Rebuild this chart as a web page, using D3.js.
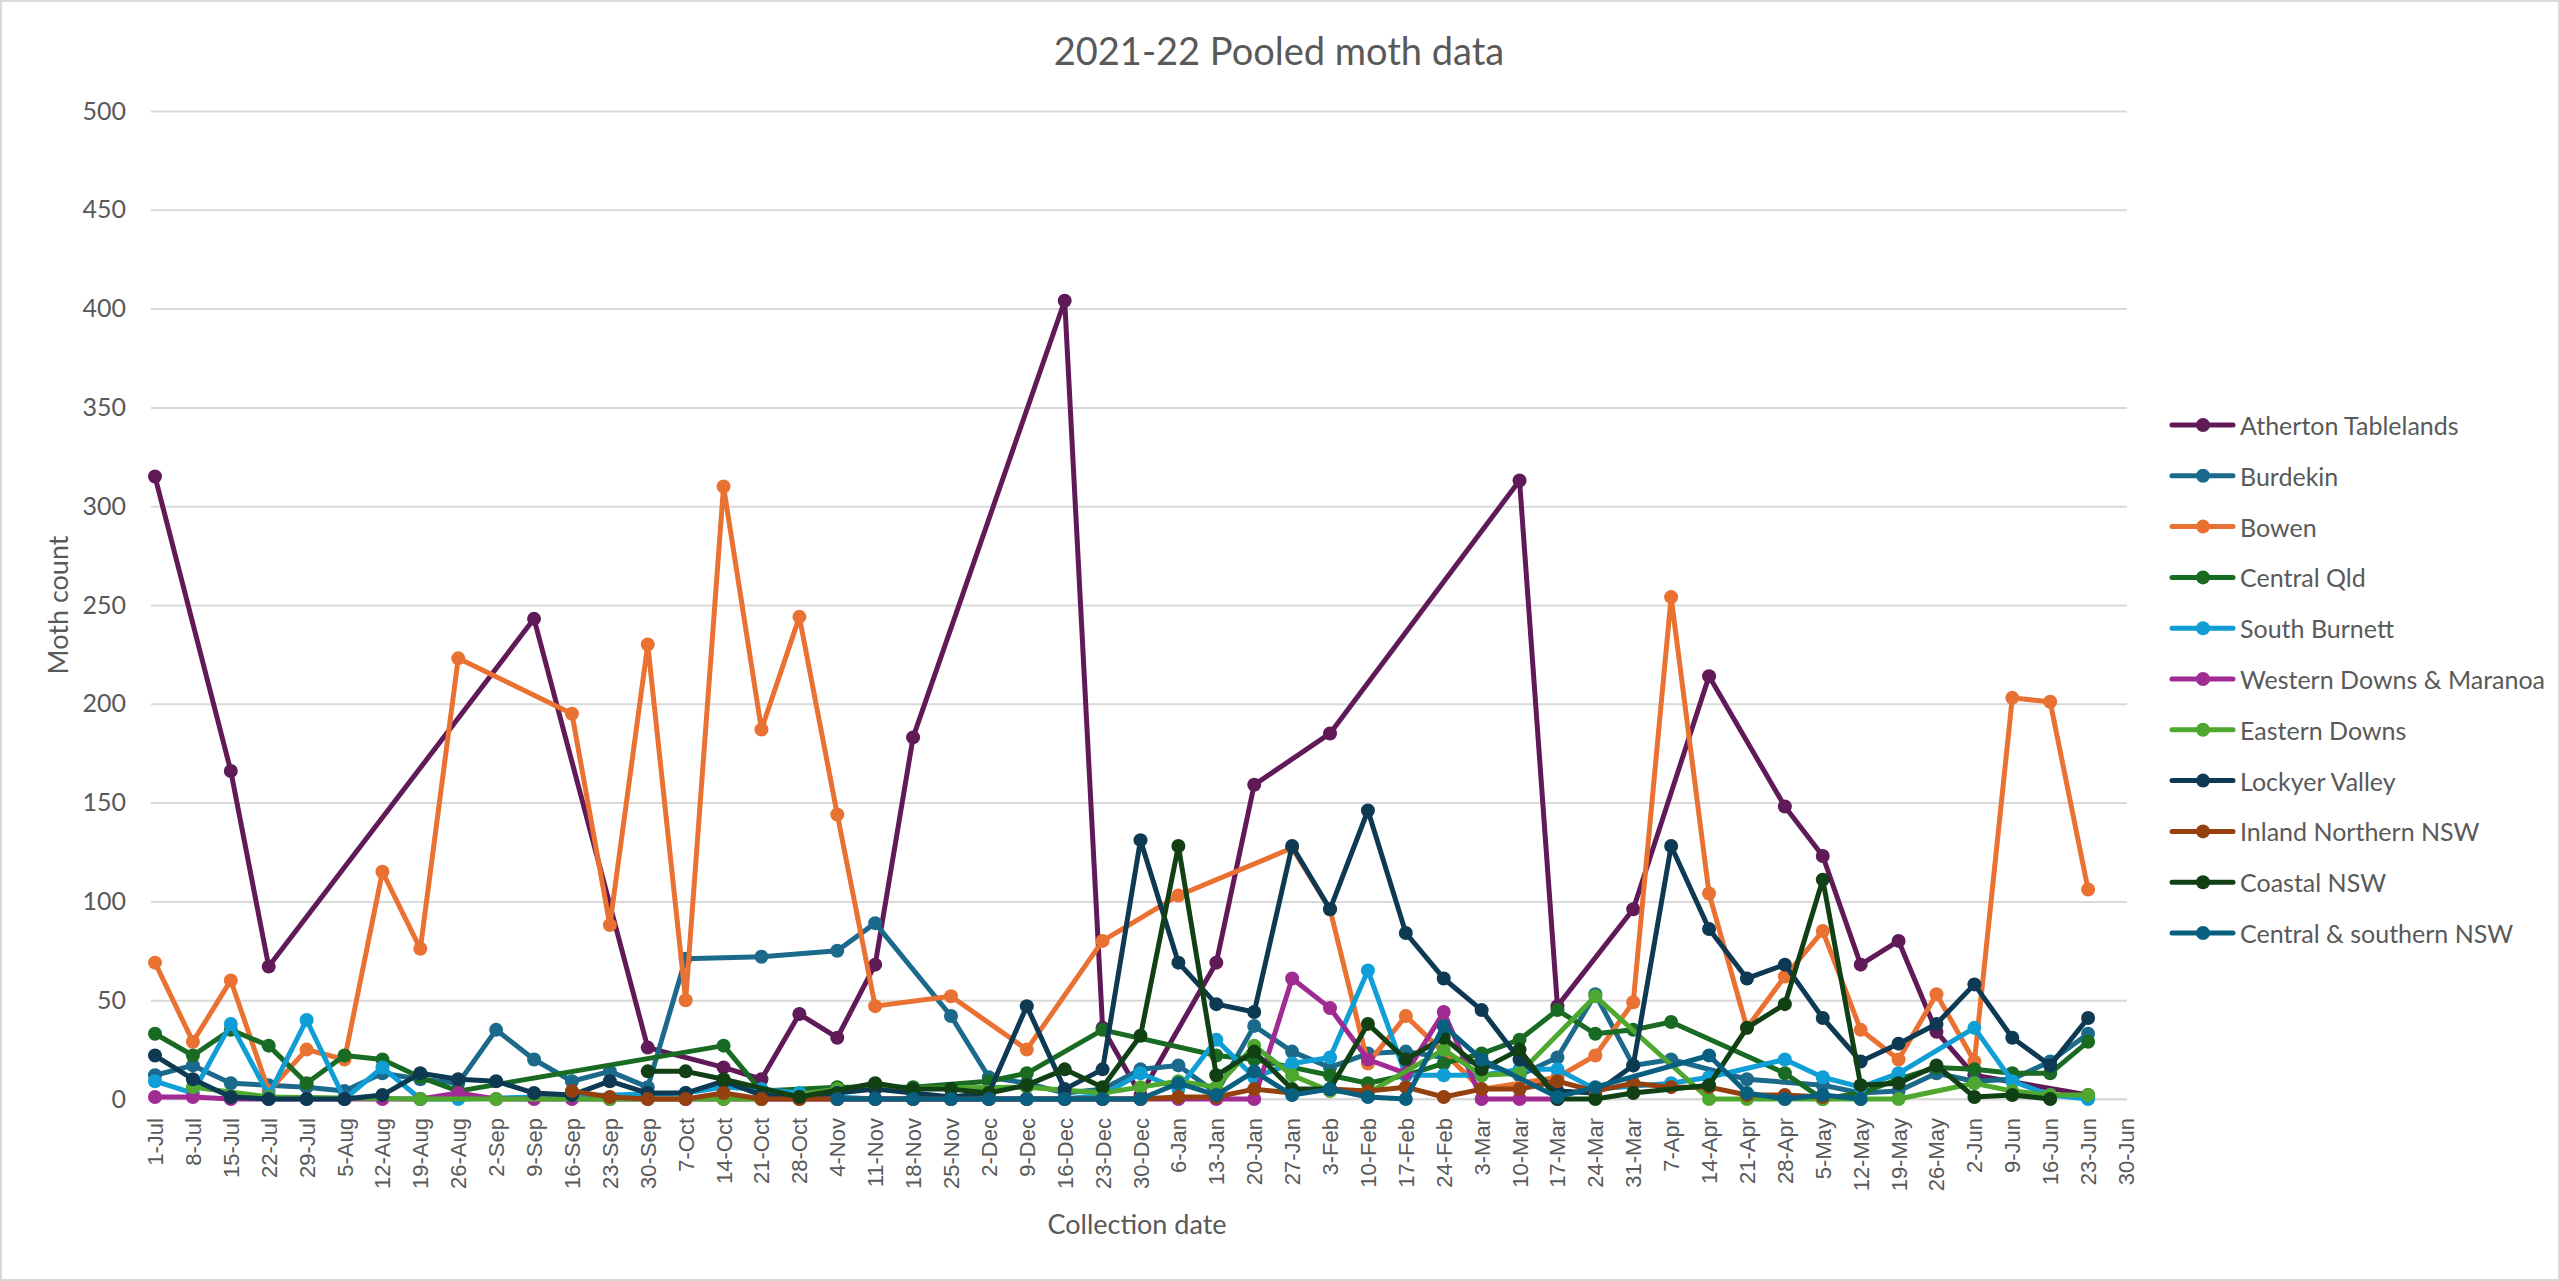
<!DOCTYPE html>
<html><head><meta charset="utf-8">
<script src="https://cdn.jsdelivr.net/npm/d3@7"></script>
<style>body{margin:0;background:#fff;} svg{display:block;}</style>
</head><body>
<svg id="chart" width="2560" height="1281"></svg>
<script>
const categories = ["1-Jul","8-Jul","15-Jul","22-Jul","29-Jul","5-Aug","12-Aug","19-Aug","26-Aug","2-Sep",
 "9-Sep","16-Sep","23-Sep","30-Sep","7-Oct","14-Oct","21-Oct","28-Oct","4-Nov","11-Nov",
 "18-Nov","25-Nov","2-Dec","9-Dec","16-Dec","23-Dec","30-Dec","6-Jan","13-Jan","20-Jan",
 "27-Jan","3-Feb","10-Feb","17-Feb","24-Feb","3-Mar","10-Mar","17-Mar","24-Mar","31-Mar",
 "7-Apr","14-Apr","21-Apr","28-Apr","5-May","12-May","19-May","26-May","2-Jun","9-Jun",
 "16-Jun","23-Jun","30-Jun"];

const atherton = [315,null,166,67,null,null,null,null,null,null,
 243,null,null,26,null,16,10,43,31,68,
 183,null,null,null,404,36,2,null,69,159,
 null,185,null,null,null,null,313,47,null,96,
 null,214,null,148,123,68,80,34,12,null,
 null,2,null];
const burdekin = [12,17,8,7,6,4,13,10,8,35,
 20,9,14,6,71,null,72,null,75,89,
 null,42,11,8,3,5,15,17,3,37,
 24,16,23,24,null,18,12,21,53,17,
 20,null,10,null,7,3,4,13,9,10,
 19,33,null];
const bowen = [69,29,60,4,25,20,115,76,223,null,
 null,195,88,230,50,310,187,244,144,47,
 null,52,null,25,null,80,null,103,null,null,
 127,96,18,42,null,5,null,11,22,49,
 254,104,36,62,85,35,20,53,19,203,
 201,106,null];
const centralQld = [33,22,35,27,8,22,20,11,4,null,
 null,null,null,null,null,27,4,null,6,null,
 6,null,9,13,null,35,null,null,22,20,
 16,12,8,12,18,23,30,45,33,35,
 39,null,null,13,0,3,10,16,15,13,
 13,29,null];
const southBurnett = [9,3,38,2,40,0,16,0,0,null,
 null,null,null,null,3,6,5,3,1,0,
 0,0,0,0,0,2,13,5,30,11,
 18,21,65,12,12,12,15,15,5,null,
 8,11,null,20,11,6,13,null,36,9,
 2,0,null];
const westernDowns = [1,1,0,0,0,0,0,0,3,0,
 0,0,0,0,0,0,0,0,0,0,
 0,0,0,0,0,0,0,0,0,0,
 61,46,20,13,44,0,0,0,null,null,
 null,null,null,null,null,null,null,null,null,null,
 null,null,null];
const easternDowns = [null,6,null,1,null,null,null,0,null,0,
 null,null,0,null,null,0,0,null,5,null,
 null,null,null,6,null,3,6,9,6,27,
 12,4,3,null,25,12,13,null,52,null,
 null,0,0,0,0,0,0,null,8,4,
 2,2,null];
const lockyer = [22,10,1,0,0,0,2,13,10,9,
 3,2,9,3,3,9,2,1,3,5,
 3,1,3,47,5,15,131,69,48,44,
 128,96,146,84,61,45,20,4,3,17,
 128,86,61,68,41,19,28,38,58,31,
 17,41,null];
const inlandNSW = [null,null,null,null,null,null,null,null,null,null,
 null,4,1,0,0,3,0,0,0,0,
 0,0,0,0,0,0,0,1,1,5,
 3,5,4,6,1,5,5,9,4,8,
 6,6,2,2,1,null,null,null,null,null,
 null,null,null];
const coastalNSW = [null,null,null,null,null,null,null,null,null,null,
 null,null,null,14,14,10,null,1,null,8,
 5,5,3,7,15,6,32,128,12,24,
 5,5,38,20,31,15,25,0,0,3,
 null,7,36,48,111,7,8,17,1,2,
 0,null,null];
const centralSouthernNSW = [null,null,null,null,null,null,null,null,null,null,
 null,null,null,null,null,null,null,null,0,0,
 0,0,0,0,0,0,0,8,2,14,
 2,5,1,0,37,20,null,1,6,null,
 null,22,3,0,2,0,null,null,null,null,
 null,null,null];

const seriesNames = ["Atherton Tablelands","Burdekin","Bowen","Central Qld","South Burnett",
 "Western Downs & Maranoa","Eastern Downs","Lockyer Valley","Inland Northern NSW","Coastal NSW","Central & southern NSW"];
const seriesValues = [atherton,burdekin,bowen,centralQld,southBurnett,westernDowns,easternDowns,lockyer,inlandNSW,coastalNSW,centralSouthernNSW];
const seriesColors = ["#601A58","#1B6A8C","#E97132","#196B24","#0F9ED5","#A02B93","#4EA72E","#0D3A52","#94400F","#114015","#085F80"];
const yTicks = [0,50,100,150,200,250,300,350,400,450,500];

const W = 2560, H = 1281;
const textColor = "#595959";
const uiFont = "Lato, 'Open Sans', sans-serif";
const svg = d3.select("#chart");
svg.append("rect").attr("width", W).attr("height", H).attr("fill", "#fff");
svg.append("rect").attr("x", 1).attr("y", 1).attr("width", W - 2).attr("height", H - 2)
  .attr("fill", "none").attr("stroke", "#d9d9d9").attr("stroke-width", 2);

const plotLeft = 151, plotRight = 2127;
const x = d3.scalePoint().domain(categories).range([155, 2126]);
const y = d3.scaleLinear().domain([0, 500]).range([1099, 111]);

// y axis with gridlines
const gy = svg.append("g").attr("transform", `translate(${plotLeft},0)`)
  .call(d3.axisLeft(y).tickValues(yTicks).tickSize(-(plotRight - plotLeft)).tickPadding(25).tickFormat(d3.format("d")));
gy.select(".domain").remove();
gy.selectAll(".tick line").attr("stroke", "#d9d9d9").attr("stroke-width", 2);
gy.selectAll(".tick text").attr("fill", textColor).style("font-family", uiFont).style("font-size", "25px");

// x axis
const gx = svg.append("g").attr("transform", `translate(0,${y(0)})`)
  .call(d3.axisBottom(x).tickSize(0));
gx.select(".domain").attr("stroke", "#d9d9d9").attr("stroke-width", 2)
  .attr("d", `M${plotLeft},0H${plotRight}`);
gx.selectAll(".tick text")
  .attr("y", 0).attr("x", 0).attr("dy", null)
  .attr("transform", "translate(0,19) rotate(-90)")
  .attr("text-anchor", "end").attr("dominant-baseline", "central")
  .attr("fill", textColor)
  .style("font-family", "'Liberation Sans', Arial, sans-serif").style("font-size", "22px");

// series
const line = d3.line().x(d => x(d.c)).y(d => y(d.v));
seriesNames.forEach((name, si) => {
  const pts = categories.map((c, i) => ({ c, v: seriesValues[si][i] })).filter(d => d.v !== null && d.v !== undefined);
  const g = svg.append("g");
  g.append("path").datum(pts).attr("d", line).attr("fill", "none")
    .attr("stroke", seriesColors[si]).attr("stroke-width", 5)
    .attr("stroke-linejoin", "round").attr("stroke-linecap", "round");
  g.selectAll("circle").data(pts).join("circle")
    .attr("cx", d => x(d.c)).attr("cy", d => y(d.v)).attr("r", 7)
    .attr("fill", seriesColors[si]);
});

// title & axis titles
svg.append("text").attr("x", 1279).attr("y", 50).attr("text-anchor", "middle").attr("dominant-baseline", "central")
  .attr("fill", textColor).style("font-family", uiFont).style("font-size", "38px").text("2021-22 Pooled moth data");
svg.append("text").attr("transform", "translate(57,605) rotate(-90)").attr("text-anchor", "middle").attr("dominant-baseline", "central")
  .attr("fill", textColor).style("font-family", uiFont).style("font-size", "27px").text("Moth count");
svg.append("text").attr("x", 1137).attr("y", 1223).attr("text-anchor", "middle").attr("dominant-baseline", "central")
  .attr("fill", textColor).style("font-family", uiFont).style("font-size", "27px").text("Collection date");

// legend
const ly = d3.scalePoint().domain(seriesNames).range([425, 933]);
const lg = svg.append("g");
seriesNames.forEach((name, si) => {
  const yy = ly(name);
  lg.append("line").attr("x1", 2172).attr("x2", 2233).attr("y1", yy).attr("y2", yy)
    .attr("stroke", seriesColors[si]).attr("stroke-width", 5).attr("stroke-linecap", "round");
  lg.append("circle").attr("cx", 2203).attr("cy", yy).attr("r", 7).attr("fill", seriesColors[si]);
  lg.append("text").attr("x", 2240).attr("y", yy).attr("dominant-baseline", "central")
    .attr("fill", textColor).style("font-family", uiFont).style("font-size", "25px").text(name);
});
</script>
</body></html>
